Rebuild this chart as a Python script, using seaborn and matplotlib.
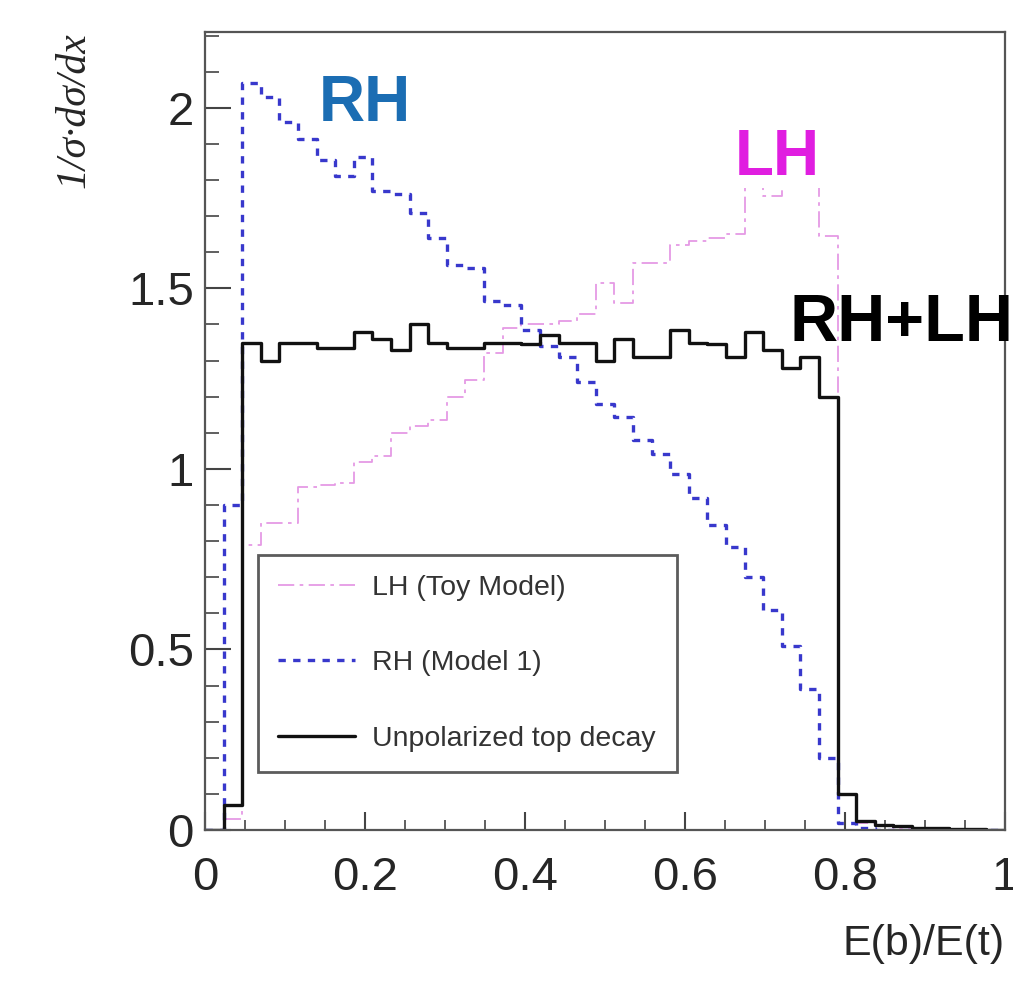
import matplotlib
matplotlib.use('Agg')
import matplotlib.pyplot as plt
import seaborn as sns
import numpy as np
from matplotlib.ticker import MultipleLocator

# 数据：43 个等宽 bin，范围 0 ~ 1
n_bins = 43
lh_toy = [0.0, 0.03, 0.79, 0.85, 0.85, 0.95, 0.955, 0.96, 1.02, 1.035,
          1.10, 1.12, 1.135, 1.20, 1.245, 1.32, 1.39, 1.40, 1.40, 1.41,
          1.43, 1.515, 1.46, 1.57, 1.57, 1.62, 1.63, 1.64, 1.65, 1.78,
          1.755, 1.83, 1.84, 1.645, 0.10, 0.02, 0.01, 0.005, 0.0, 0.0,
          0.0, 0.0, 0.0]
rh_model1 = [0.0, 0.90, 2.07, 2.03, 1.96, 1.915, 1.855, 1.81, 1.865, 1.77,
             1.76, 1.71, 1.64, 1.565, 1.555, 1.465, 1.455, 1.385, 1.34, 1.31,
             1.24, 1.18, 1.145, 1.08, 1.04, 0.985, 0.92, 0.845, 0.785, 0.70,
             0.61, 0.51, 0.39, 0.20, 0.02, 0.005, 0.0, 0.0, 0.0, 0.0,
             0.0, 0.0, 0.0]
unpolarized = [0.0, 0.07, 1.35, 1.30, 1.35, 1.35, 1.335, 1.335, 1.38, 1.36,
               1.33, 1.40, 1.35, 1.335, 1.335, 1.35, 1.35, 1.345, 1.37, 1.35,
               1.35, 1.30, 1.36, 1.31, 1.31, 1.385, 1.35, 1.345, 1.31, 1.38,
               1.33, 1.28, 1.31, 1.20, 0.10, 0.025, 0.015, 0.01, 0.006, 0.005,
               0.004, 0.003, 0.0]
labels = ['LH (Toy Model)', 'RH (Model 1)', 'Unpolarized top decay']

edges = np.linspace(0, 1, n_bins + 1)

sns.set_theme(style='ticks')
plt.rcParams['font.family'] = ['Liberation Sans', 'DejaVu Sans']
plt.rcParams['axes.unicode_minus'] = False

fig = plt.figure(figsize=(10.13, 9.84), dpi=100)
ax = fig.add_axes([0.2024, 0.1565, 0.7897, 0.811])


def step_line(vals, **kw):
    y = np.append(vals, vals[-1])
    sns.lineplot(x=edges, y=y, drawstyle='steps-post', ax=ax, **kw)


step_line(lh_toy, color='#e59ae5', linewidth=1.3,
          linestyle=(0, (9, 3, 2, 3)), label=labels[0])
step_line(rh_model1, color='#3838cc', linewidth=2.4,
          linestyle=(0, (2.2, 2.2)), label=labels[1])
step_line(unpolarized, color='#111111', linewidth=2.4, label=labels[2])

ax.set_xlim(0, 1)
ax.set_ylim(0, 2.21)
ax.xaxis.set_major_locator(MultipleLocator(0.2))
ax.xaxis.set_minor_locator(MultipleLocator(0.05))
ax.yaxis.set_major_locator(MultipleLocator(0.5))
ax.yaxis.set_minor_locator(MultipleLocator(0.1))
ax.set_xticks([0, 0.2, 0.4, 0.6, 0.8, 1.0], ['0', '0.2', '0.4', '0.6', '0.8', '1'])
ax.set_yticks([0, 0.5, 1.0, 1.5, 2.0], ['0', '0.5', '1', '1.5', '2'])

ax.tick_params(axis='x', which='major', direction='in', length=13, width=1.5,
               labelsize=34, pad=19, color='#444444')
ax.tick_params(axis='x', which='minor', direction='in', length=7, width=1.2, color='#444444')
ax.tick_params(axis='y', which='major', direction='in', length=19, width=1.5,
               labelsize=34, pad=8, color='#444444')
ax.tick_params(axis='y', which='minor', direction='in', length=10, width=1.2, color='#444444')
for sp in ax.spines.values():
    sp.set_color('#555555')
    sp.set_linewidth(1.6)

ax.set_xlabel('E(b)/E(t)', fontsize=31, loc='right')
ax.xaxis.set_label_coords(1.0, -0.118)
ax.set_ylabel('1/σ·dσ/dx', fontsize=30, loc='top', style='italic',
              family=['Liberation Serif', 'DejaVu Serif'])
ax.yaxis.set_label_coords(-0.14, 1.0)

# 标注文字
ax.text(0.2, 2.01, 'RH', color='#1b6db3', fontsize=46, fontweight='bold',
        ha='center', va='center')
ax.text(0.716, 1.86, 'LH', color='#e01ee0', fontsize=46, fontweight='bold',
        ha='center', va='center', zorder=5,
        bbox=dict(facecolor='white', edgecolor='none', pad=0))
ax.text(0.73, 1.40, 'RH+LH', color='black', fontsize=48, fontweight='bold',
        ha='left', va='center', clip_on=False)

leg = ax.legend(loc='upper left', bbox_to_anchor=(0.066, 0.0, 0.524, 0.345),
                mode='expand', borderaxespad=0, fontsize=20.5, frameon=True,
                fancybox=False, edgecolor='#333333', handlelength=2.7,
                handletextpad=0.6, labelspacing=1.75, borderpad=0.7)
leg.get_frame().set_linewidth(2)
for t in leg.get_texts():
    t.set_color('#333333')

fig.savefig('out.png', dpi=100, facecolor='white')
